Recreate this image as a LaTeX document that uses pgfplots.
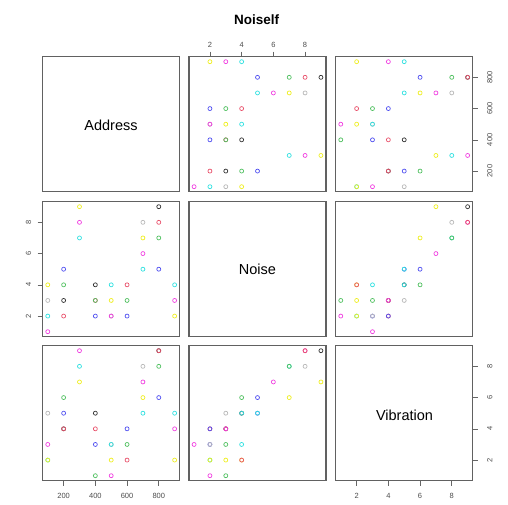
\documentclass[border=0pt]{standalone}
\usepackage{fontspec}
\setmainfont{Liberation Sans}
\usepackage{pgfplots}
\usepackage{pgfplotstable}
\pgfplotsset{compat=1.18}
\definecolor{colK}{HTML}{303030}
\definecolor{colR}{HTML}{E8506A}
\definecolor{colG}{HTML}{50C060}
\definecolor{colB}{HTML}{5050F0}
\definecolor{colC}{HTML}{30E0E0}
\definecolor{colM}{HTML}{F040E0}
\definecolor{colY}{HTML}{EEEE20}
\definecolor{colGr}{HTML}{B8B8B8}
\pgfplotstableread{
A N V c
100 1 3 m
100 2 2 c
100 3 5 gr
100 4 2 y
200 3 4 k
200 2 4 r
200 4 6 g
200 5 5 b
300 7 8 c
300 8 9 m
300 9 7 y
400 2 3 b
400 3 4 r
400 3 1 g
400 4 5 k
500 2 3 gr
500 2 1 m
500 3 2 y
500 4 3 c
600 2 4 b
600 3 3 g
600 4 2 r
700 5 5 c
700 6 7 m
700 7 6 y
700 8 8 gr
800 5 6 b
800 7 8 g
800 9 9 k
800 8 9 r
900 2 2 y
900 3 4 m
900 4 5 c
}\data
\pgfplotsset{
  panel/.style={scale only axis, width=137pt, height=135pt, anchor=south west,
    axis line style={draw=black!62, line width=1.1pt},
    xtick=\empty, ytick=\empty,
    tick align=outside, major tick length=5pt,
    tick style={draw=black!60, line width=0.6pt},
    tick label style={font=\fontsize{7.5}{8}\selectfont, text=black!70},
    /pgf/number format/assume math mode=true},
  rangeA/.style={#1min=68, #1max=932},
  rangeN/.style={#1min=0.68, #1max=9.32},
  botlab/.style={xtick pos=left, xticklabel pos=left, xticklabel style={yshift=-4pt}},
  toplab/.style={xtick pos=right, xticklabel pos=right, xticklabel style={yshift=1pt}},
  leftlab/.style={ytick pos=left, yticklabel pos=left, yticklabel style={xshift=-3pt, rotate=90, anchor=south}},
  rightlab/.style={ytick pos=right, yticklabel pos=right, yticklabel style={xshift=6pt, rotate=90, anchor=north}},
  pts/.style={scatter, only marks, scatter src=explicit symbolic,
    mark size=2pt, line width=0.7pt,
    scatter/classes={k={mark=o,draw=colK}, r={mark=o,draw=colR}, g={mark=o,draw=colG}, b={mark=o,draw=colB},
      c={mark=o,draw=colC}, m={mark=o,draw=colM}, y={mark=o,draw=colY}, gr={mark=o,draw=colGr}}},
}
\begin{document}
\begin{tikzpicture}[x=1pt,y=1pt]
\useasboundingbox (0,0) rectangle (508,504);
% Row 1
\begin{axis}[panel, at={(42.7pt,312.3pt)}, rangeA=x, rangeA=y]
\end{axis}
\node[font=\fontsize{14.5}{16}\selectfont] at (111,378.3) {Address};
\begin{axis}[panel, at={(189pt,312.3pt)}, rangeN=x, rangeA=y,
  xtick={2,4,6,8}, toplab]
\addplot[pts] table[x=N, y=A, meta=c] {\data};
\end{axis}
\begin{axis}[panel, at={(335.7pt,312.3pt)}, rangeN=x, rangeA=y,
  ytick={200,400,600,800}, rightlab]
\addplot[pts] table[x=V, y=A, meta=c] {\data};
\end{axis}
% Row 2
\begin{axis}[panel, at={(42.7pt,167.3pt)}, rangeA=x, rangeN=y,
  ytick={2,4,6,8}, leftlab]
\addplot[pts] table[x=A, y=N, meta=c] {\data};
\end{axis}
\begin{axis}[panel, at={(189pt,167.3pt)}, rangeN=x, rangeN=y]
\end{axis}
\node[font=\fontsize{14.5}{16}\selectfont] at (257.5,234.3) {Noise};
\begin{axis}[panel, at={(335.7pt,167.3pt)}, rangeN=x, rangeN=y]
\addplot[pts] table[x=V, y=N, meta=c] {\data};
\end{axis}
% Row 3
\begin{axis}[panel, at={(42.7pt,23.3pt)}, rangeA=x, rangeN=y,
  xtick={200,400,600,800}, botlab]
\addplot[pts] table[x=A, y=V, meta=c] {\data};
\end{axis}
\begin{axis}[panel, at={(189pt,23.3pt)}, rangeN=x, rangeN=y]
\addplot[pts] table[x=N, y=V, meta=c] {\data};
\end{axis}
\begin{axis}[panel, at={(335.7pt,23.3pt)}, rangeN=x, rangeN=y,
  xtick={2,4,6,8}, botlab, ytick={2,4,6,8}, rightlab]
\end{axis}
\node[font=\fontsize{14.5}{16}\selectfont] at (404.5,89) {Vibration};
\node[font=\bfseries\fontsize{13.5}{15}\selectfont] at (256.7,484.5) {Noiself};
\end{tikzpicture}
\end{document}
